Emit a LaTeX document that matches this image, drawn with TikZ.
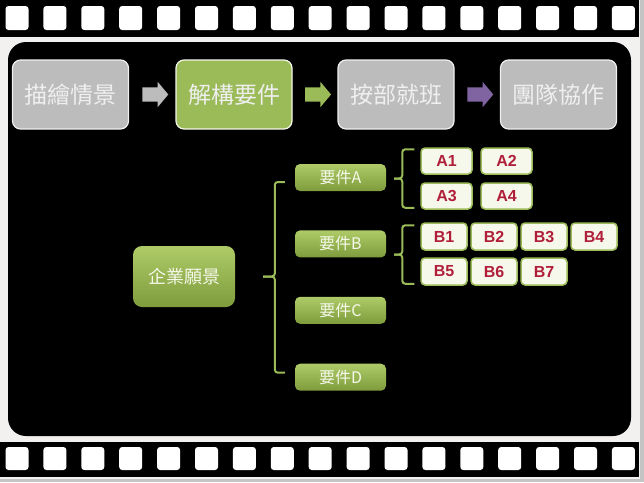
\documentclass[tikz,border=0pt]{standalone}
\usepackage{fontspec}
\setmainfont{Noto Sans CJK TC}
\newfontfamily\tagfont{Liberation Sans}
\definecolor{SOlive}{HTML}{9BBB59}
\definecolor{SOliveLight}{HTML}{AECB68}
\definecolor{SOliveDark}{HTML}{7F9C3D}
\definecolor{SGrey}{HTML}{BCBCBC}
\definecolor{SPurple}{HTML}{8064A2}
\definecolor{SCream}{HTML}{F5F8EA}
\definecolor{SCrimson}{HTML}{B01E3A}
\definecolor{SMat}{HTML}{F3F0F0}
\definecolor{SShade}{HTML}{C4C4C4}
\definecolor{SPale}{HTML}{EFEFEF}
\usepackage{tikz}
\usetikzlibrary{positioning,calc,shapes.arrows}

\tikzset{
  stagebox/.style={rectangle,rounded corners=8pt,draw=SPale,line width=1.2pt,
    minimum width=116pt,minimum height=69pt,text=SPale,
    font=\fontsize{23}{26}\selectfont},
  flowarrow/.style={single arrow,draw=none,minimum height=26pt,
    single arrow head extend=5.5pt,single arrow tip angle=100,
    inner xsep=0pt,inner ysep=7pt},
  reqbox/.style={rectangle,rounded corners=5pt,top color=SOliveLight,
    bottom color=SOliveDark,minimum width=91pt,minimum height=27pt,
    text=SCream,font=\fontsize{16}{18}\selectfont},
  tagbox/.style={rectangle,rounded corners=4pt,fill=SCream,draw=SOlive,
    line width=1.5pt,minimum height=26pt,text=SCrimson,
    font=\tagfont\bfseries\fontsize{16}{18}\selectfont},
  brace/.style={draw=SOlive,line width=2pt,rounded corners=3pt},
  hole/.style={fill=white,rounded corners=3pt},
}

\begin{document}
\begin{tikzpicture}[x=1pt,y=-1pt]
  \useasboundingbox (0,0) rectangle (644,482);
  % film frame
  \fill[SShade] (0,0) rectangle (644,482);
  \fill[SMat] (0,0) rectangle (640,479);
  \fill[black] (0,0) rectangle (639,37);
  \fill[black] (0,442) rectangle (639,477);
  \foreach \k in {0,...,16} {
    \fill[hole] ({5.5+37.9*\k},6) rectangle ++(23,24);
    \fill[hole] ({5.5+37.9*\k},447) rectangle ++(23,23);
  }
  \fill[black,rounded corners=18pt] (8,42) rectangle (631,436);

  % stages
  \node[stagebox,fill=SGrey] (scene) at (70.5,94.5) {描繪情景};
  \node[stagebox,fill=SOlive,draw=SCream] (decomp) at (234,94.5) {解構要件};
  \node[stagebox,fill=SGrey] (plan) at (396,94.5) {按部就班};
  \node[stagebox,fill=SGrey] (team) at (558.5,94.5) {團隊協作};
  \node[flowarrow,fill=SGrey] (arA) at ($(scene.east)!.5!(decomp.west)$) {};
  \node[flowarrow,fill=SOlive] (arB) at ($(decomp.east)!.5!(plan.west)$) {};
  \node[flowarrow,fill=SPurple] (arC) at ($(plan.east)!.5!(team.west)$) {};

  % vision and requirements
  \node[reqbox,minimum width=102pt,minimum height=61pt,rounded corners=9pt,
        font=\fontsize{18}{20}\selectfont] (vision) at (184,276.5) {企業願景};
  \node[reqbox] (reqA) at (340.5,177.5) {要件A};
  \node[reqbox,below=39pt of reqA] (reqB) {要件B};
  \node[reqbox,below=39pt of reqB] (reqC) {要件C};
  \node[reqbox,below=39.5pt of reqC] (reqD) {要件D};

  \coordinate (bTop) at ([xshift=-10pt,yshift=-4.5pt]reqA.west);
  \coordinate (bBot) at ([xshift=-10pt,yshift=4.5pt]reqD.west);
  \draw[brace] (bTop) -- ++(-10,0) |- ([xshift=28pt]vision.east);
  \draw[brace] (bBot) -- ++(-10,0) |- ([xshift=28pt]vision.east);

  % tags of A
  \node[tagbox,minimum width=51pt] (a1) at (446.5,161) {A1};
  \node[tagbox,minimum width=51pt,right=7.5pt of a1] (a2) {A2};
  \node[tagbox,minimum width=51pt,below=7.5pt of a1] (a3) {A3};
  \node[tagbox,minimum width=51pt,right=7.5pt of a3] (a4) {A4};

  \coordinate (aTop) at ([xshift=-6pt,yshift=-2pt]a1.north west);
  \coordinate (aBot) at ([xshift=-6pt,yshift=2pt]a3.south west);
  \coordinate (aC) at ($(aTop)!.5!(aBot)$);
  \draw[brace] (aTop) -- ++(-12,0) |- ([xshift=8pt]reqA.east |- aC);
  \draw[brace] (aBot) -- ++(-12,0) |- ([xshift=8pt]reqA.east |- aC);

  % tags of B
  \node[tagbox,minimum width=46pt,minimum height=27pt] (b1) at (444,236.5) {B1};
  \node[tagbox,minimum width=46pt,minimum height=27pt,right=2.5pt of b1] (b2) {B2};
  \node[tagbox,minimum width=46pt,minimum height=27pt,right=2.5pt of b2] (b3) {B3};
  \node[tagbox,minimum width=46pt,minimum height=27pt,right=2.5pt of b3] (b4) {B4};
  \node[tagbox,minimum width=46pt,minimum height=27pt,below=6.5pt of b1] (b5) {B5};
  \node[tagbox,minimum width=46pt,minimum height=27pt,right=2.5pt of b5] (b6) {B6};
  \node[tagbox,minimum width=46pt,minimum height=27pt,right=2.5pt of b6] (b7) {B7};

  \coordinate (bbTop) at ([xshift=-6pt,yshift=-3pt]b1.north west);
  \coordinate (bbBot) at ([xshift=-6pt,yshift=2pt]b5.south west);
  \coordinate (bC) at ($(bbTop)!.5!(bbBot)$);
  \draw[brace] (bbTop) -- ++(-12,0) |- ([xshift=8pt]reqB.east |- bC);
  \draw[brace] (bbBot) -- ++(-12,0) |- ([xshift=8pt]reqB.east |- bC);
\end{tikzpicture}
\end{document}
